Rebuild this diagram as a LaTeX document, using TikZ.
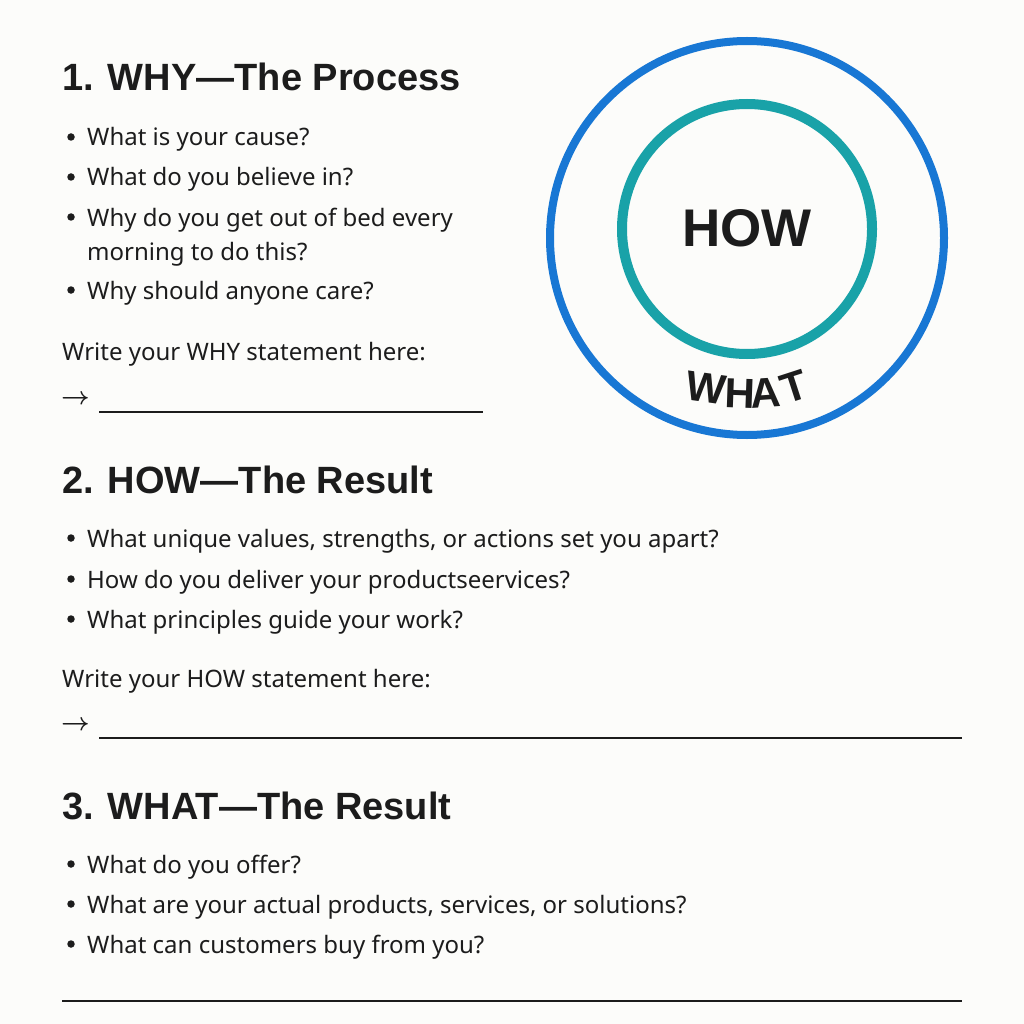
\documentclass[tikz,border=0pt]{standalone}
\usepackage{fontspec}
\setmainfont{Noto Sans}
\newfontfamily\headfont{Liberation Sans}
\definecolor{ink}{RGB}{28,28,28}
\definecolor{bg}{RGB}{252,252,250}
\definecolor{outerblue}{RGB}{24,119,212}
\definecolor{innerteal}{RGB}{25,162,168}
\tikzset{
  head/.style={anchor=base west, inner sep=0pt, text=ink, font=\headfont\bfseries\fontsize{38}{38}\selectfont},
  body/.style={anchor=base west, inner sep=0pt, text=ink, font=\fontsize{24}{24}\selectfont},
  dot/.style={circle, fill=ink, inner sep=0pt, minimum size=7.5pt},
  arr/.style={anchor=west, inner sep=0pt, text=ink, font=\fontsize{28}{28}\selectfont\boldmath},
  rule/.style={draw=ink, line width=1.6pt},
  arcletter/.style={anchor=center, inner sep=0pt, text=ink, font=\headfont\bfseries\fontsize{42}{42}\selectfont},
}
\begin{document}
\begin{tikzpicture}[x=1pt,y=1pt]
\fill[bg] (0,0) rectangle (1024,-1024);
\useasboundingbox (0,0) rectangle (1024,-1024);

% circles
\node[circle, draw=outerblue, line width=8pt, minimum size=394pt, inner sep=0pt] (outer) at (747,-238) {};
\node[circle, draw=innerteal, line width=10pt, minimum size=250pt, inner sep=0pt] (inner) at (747,-229) {};
\node[anchor=base, inner sep=0pt, text=ink, font=\headfont\bfseries\fontsize{53}{53}\selectfont] (how) at (747,-247) {HOW};
\node[arcletter, rotate=-8] (wW) at (706,-388) {W};
\node[arcletter, rotate=-2] (wH) at (740,-394) {H};
\node[arcletter, rotate=4] (wA) at (766,-393) {A};
\node[arcletter, rotate=18] (wT) at (794.5,-387) {T};

% Section 1
\node[head] (h1) at (62,-91) {1. WHY—The Process};
\node[dot] (d11) at (71,-137) {};
\node[body] (b11) at (87,-146) {What is your cause?};
\node[dot] (d12) at (71,-177) {};
\node[body] (b12) at (87,-186) {What do you believe in?};
\node[dot] (d13) at (71,-217) {};
\node[body] (b13) at (87,-226) {Why do you get out of bed every};
\node[body] (b13b) at (87,-260) {morning to do this?};
\node[dot] (d14) at (71,-290) {};
\node[body] (b14) at (87,-299) {Why should anyone care?};
\node[body] (w1) at (62,-360) {Write your WHY statement here:};
\node[arr] (a1) at (61,-400) {$\rightarrow$};
\coordinate (l1s) at (99,-412);
\coordinate (l1e) at (483,-412);
\draw[rule] (l1s) -- (l1e);

% Section 2
\node[head] (h2) at (62,-493) {2. HOW—The Result};
\node[dot] (d21) at (71,-538) {};
\node[body] (b21) at (87,-547) {What unique values, strengths, or actions set you apart?};
\node[dot] (d22) at (71,-579) {};
\node[body] (b22) at (87,-588) {How do you deliver your productseervices?};
\node[dot] (d23) at (71,-619) {};
\node[body] (b23) at (87,-628) {What principles guide your work?};
\node[body] (w2) at (62,-687) {Write your HOW statement here:};
\node[arr] (a2) at (61,-726) {$\rightarrow$};
\coordinate (l2s) at (99,-738);
\coordinate (l2e) at (962,-738);
\draw[rule] (l2s) -- (l2e);

% Section 3
\node[head] (h3) at (62,-819) {3. WHAT—The Result};
\node[dot] (d31) at (71,-864) {};
\node[body] (b31) at (87,-873) {What do you offer?};
\node[dot] (d32) at (71,-904) {};
\node[body] (b32) at (87,-913) {What are your actual products, services, or solutions?};
\node[dot] (d33) at (71,-944) {};
\node[body] (b33) at (87,-953) {What can customers buy from you?};
\coordinate (l3s) at (62,-1001);
\coordinate (l3e) at (962,-1001);
\draw[rule] (l3s) -- (l3e);
\end{tikzpicture}
\end{document}
